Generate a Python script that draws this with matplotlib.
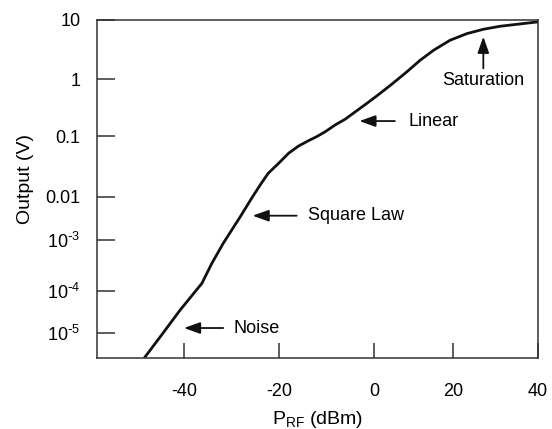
import numpy as np
import matplotlib
matplotlib.use("Agg")
import matplotlib.pyplot as plt

plt.rcParams['font.family'] = ['Liberation Sans', 'DejaVu Sans']
plt.rcParams['mathtext.default'] = 'regular'

# Detector response curve
p_rf = [-48.3, -45.1, -40.9, -36.3, -34.2, -31.8, -28.2, -25.8, -24.0, -22.3,
        -20.1, -18.0, -15.9, -13.8, -12.1, -10.3, -8.2, -6.1, -1.5, 1.0,
        4.6, 8.3, 11.7, 15.1, 19.3, 23.3, 27.2, 31.1, 35.1, 39.8]
output_v = [2.8e-6, 8.3e-6, 3.52e-5, 1.40e-4, 3.47e-4, 8.6e-4, 3.45e-3, 9.2e-3, 0.0156, 0.0244,
            0.0357, 0.0524, 0.069, 0.0846, 0.0985, 0.12, 0.158, 0.199, 0.379, 0.53,
            0.83, 1.33, 2.09, 3.08, 4.55, 5.88, 6.97, 7.83, 8.46, 9.25]

x_ticks = [-40, -20, 0, 20, 40]
x_tick_labels = ['-40', '-20', '0', '20', '40']
y_ticks = [10, 1, 0.1, 0.01, 1e-3, 1e-4, 1e-5]
y_tick_labels = ['10', '1', '0.1', '0.01', r'10$^{\text{-}3}$', r'10$^{\text{-}4}$', r'10$^{\text{-}5}$']

# the original figure is hand drawn: tick spacing is not quite uniform,
# so both axes use a piecewise scale fitted to the tick positions
x_knots = [-60, -40, -20, 0, 20, 40, 60]
x_pos = [89.6, 184.3, 279.0, 374.0, 452.7, 537.7, 622.7]
y_knots = [-6, -5, -4, -3, -2, -1, 0, 1, 2]
y_pos = [375.9, 333.3, 290.7, 240.0, 196.7, 136.3, 79.3, 20.0, -39.3]


def fwd_x(x):
    return np.interp(x, x_knots, x_pos)


def inv_x(t):
    return np.interp(t, x_pos, x_knots)


def fwd_y(y):
    l = np.log10(np.clip(y, 1e-12, None))
    return -np.interp(l, y_knots, y_pos)


def inv_y(t):
    return 10 ** np.interp(-np.asarray(t), y_pos[::-1], y_knots[::-1])


fig = plt.figure(figsize=(5.52, 4.29), dpi=100)
ax = fig.add_axes([0.1763, 0.1648, 0.7978, 0.7886])
ax.set_xscale('function', functions=(fwd_x, inv_x))
ax.set_yscale('function', functions=(fwd_y, inv_y))

ax.plot(p_rf, output_v, color='#111111', lw=2.0, solid_joinstyle='round')

ax.set_xlim(-58.4, 40)
ax.set_ylim(10 ** -5.587, 10)

ax.set_xticks(x_ticks, x_tick_labels)
ax.set_yticks(y_ticks, y_tick_labels)
ax.minorticks_off()
ax.tick_params(axis='x', direction='in', length=11, width=1.1, color='#333333',
               pad=18, labelsize=13)
ax.tick_params(axis='y', direction='in', length=13, width=1.1, color='#333333',
               pad=12, labelsize=13)
for s in ax.spines.values():
    s.set_color('#333333')
    s.set_linewidth(1.1)

ax.set_xlabel(r'P$_{RF}$ (dBm)', fontsize=14, labelpad=6)
ax.set_ylabel('Output (V)', fontsize=14)
ax.yaxis.set_label_coords(-0.144, 0.53)

arrow = dict(arrowstyle='-|>,head_length=0.7,head_width=0.25', color='#111111',
             lw=1.3, shrinkA=0, shrinkB=0, mutation_scale=14)

ax.annotate('', xy=(-40.1, 1.33e-5), xytext=(-31.8, 1.33e-5), arrowprops=arrow)
ax.text(-29.7, 1.33e-5, 'Noise', fontsize=13, ha='left', va='center')

ax.annotate('', xy=(-25.6, 3.64e-3), xytext=(-16.3, 3.64e-3), arrowprops=arrow)
ax.text(-14.0, 3.64e-3, 'Square Law', fontsize=13, ha='left', va='center')

ax.annotate('', xy=(-3.1, 0.185), xytext=(5.3, 0.185), arrowprops=arrow)
ax.text(8.7, 0.185, 'Linear', fontsize=13, ha='left', va='center')

ax.annotate('', xy=(27.2, 5.22), xytext=(27.2, 1.53), arrowprops=arrow)
ax.text(27.1, 0.97, 'Saturation', fontsize=13, ha='center', va='center')

fig.savefig('out.png', dpi=100)
